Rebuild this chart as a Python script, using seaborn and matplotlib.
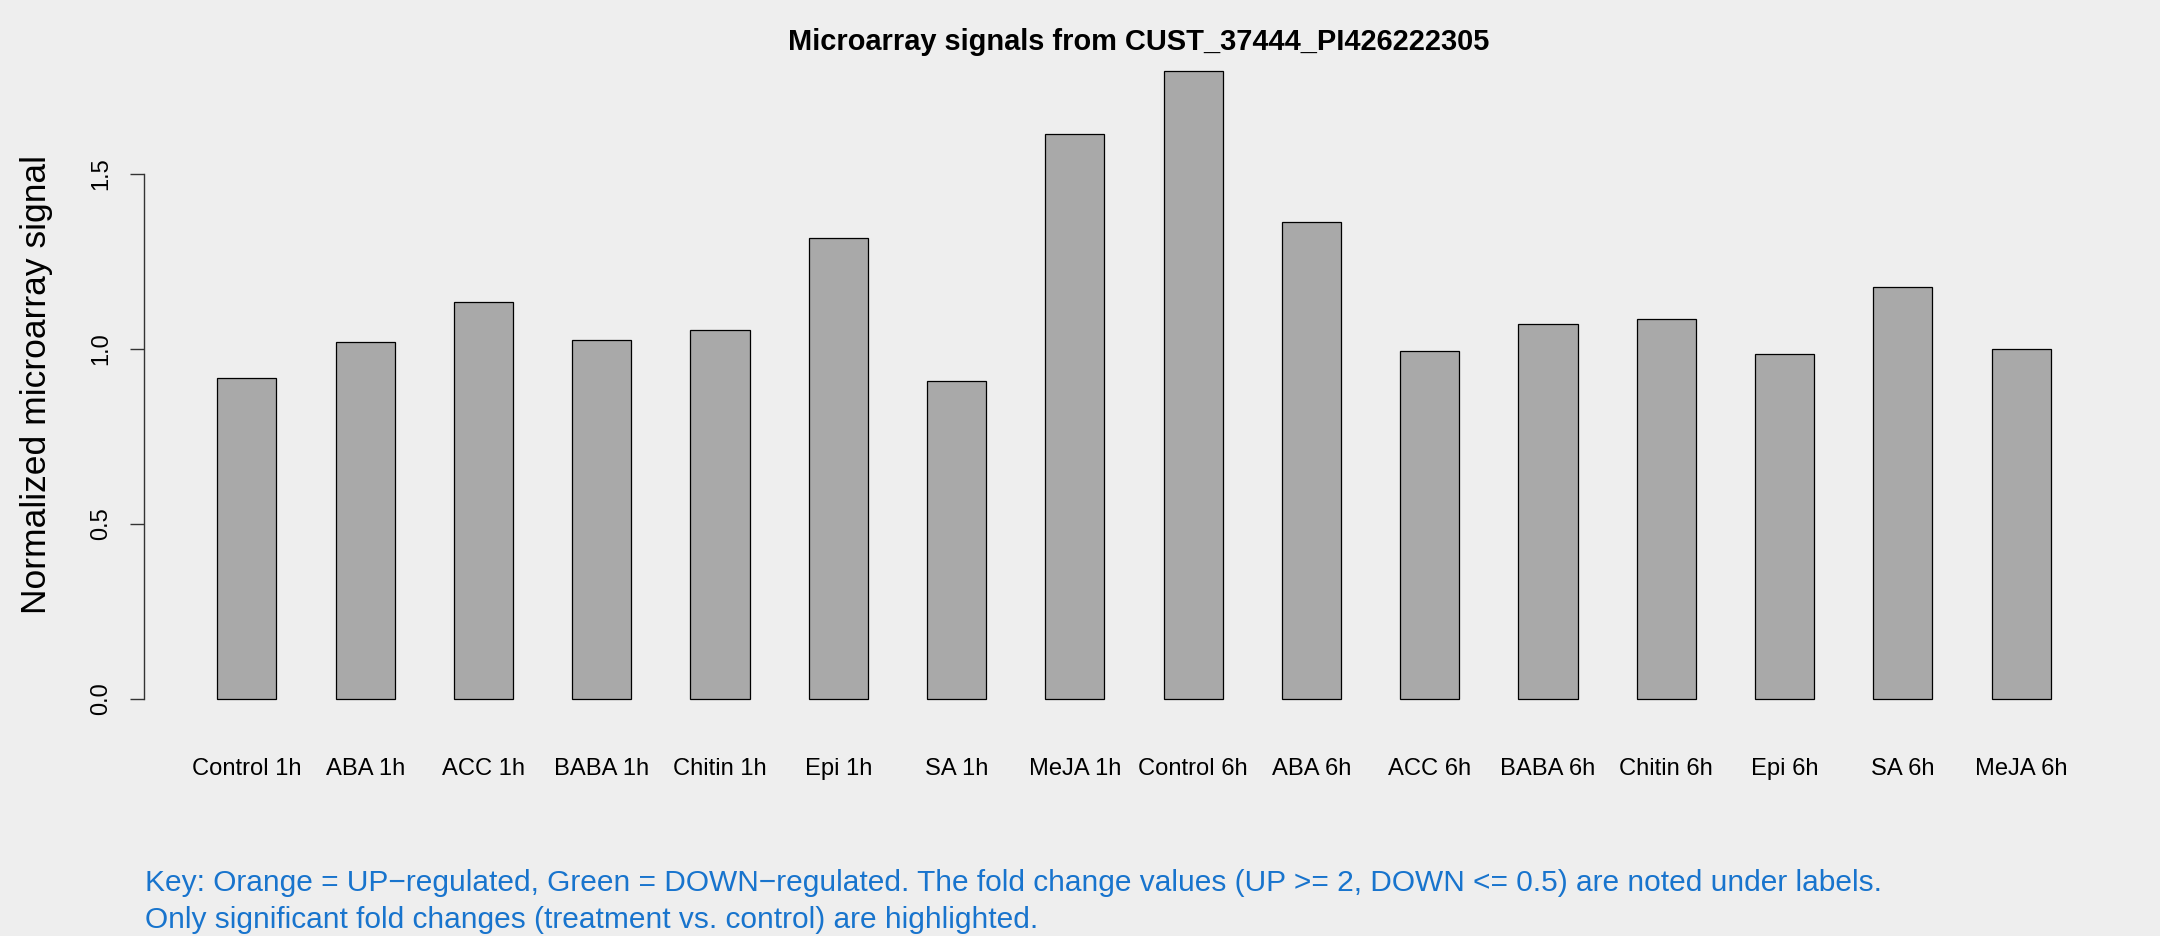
import numpy as np
import pandas as pd
import seaborn as sns
import matplotlib
matplotlib.use("Agg")
import matplotlib.pyplot as plt

samples = ["Control 1h", "ABA 1h", "ACC 1h", "BABA 1h", "Chitin 1h", "Epi 1h", "SA 1h", "MeJA 1h",
           "Control 6h", "ABA 6h", "ACC 6h", "BABA 6h", "Chitin 6h", "Epi 6h", "SA 6h", "MeJA 6h"]
signal = [0.916, 1.019, 1.134, 1.024, 1.053, 1.316, 0.907, 1.614,
          1.793, 1.363, 0.994, 1.070, 1.084, 0.986, 1.177, 0.999]
yticks = [0.0, 0.5, 1.0, 1.5]
ytick_labels = ["0.0", "0.5", "1.0", "1.5"]

probe = "CUST_37444_PI426222305"
key_lines = ["Key: Orange = UP\u2212regulated, Green = DOWN\u2212regulated. The fold change values (UP >= 2, DOWN <= 0.5) are noted under labels.",
             "Only significant fold changes (treatment vs. control) are highlighted."]

df = pd.DataFrame({"sample": samples, "signal": signal})

sns.set_style("white")
plt.rcParams["font.family"] = ["Liberation Sans", "DejaVu Sans"]
plt.rcParams["text.color"] = "black"
plt.rcParams["axes.labelcolor"] = "black"
plt.rcParams["xtick.color"] = "black"
plt.rcParams["ytick.color"] = "black"

bg = "#EEEEEE"
fig = plt.figure(figsize=(21.6, 9.36), dpi=100, facecolor=bg)
# plot region in pixels: x 144..2124, y 46..724
ax = fig.add_axes([144 / 2160, 1 - 724 / 936, 1980 / 2160, 678 / 936])
ax.set_facecolor(bg)

sns.barplot(data=df, x="sample", y="signal", color="#A9A9A9", saturation=1,
            edgecolor="black", linewidth=0.9, width=0.5, ax=ax)

top = max(signal) * 1.04
ax.set_ylim(-0.04 * max(signal), top)
ax.set_xlim(-0.87, len(samples) - 1 + 0.87)

for s in ["top", "right", "bottom"]:
    ax.spines[s].set_visible(False)
ax.spines["left"].set_bounds(0, 1.5)
ax.spines["left"].set_color("#333333")
ax.spines["left"].set_linewidth(1)

ax.set_yticks(yticks)
ax.set_yticklabels(ytick_labels, rotation=90, va="center")
ax.tick_params(axis="y", direction="out", length=10, width=1, color="#333333",
               labelsize=17, pad=13, left=True)
ax.tick_params(axis="x", length=0, labelsize=17.1, pad=24.5)

ax.set_xlabel("")
ax.set_ylabel("Normalized microarray signal", fontsize=25.5)
ax.yaxis.set_label_coords(-0.046, 0.5)

ax.set_title("Microarray signals from " + probe, fontsize=20.9, fontweight="bold",
             x=0.5025, pad=-3)

fig.text(145 / 2160, 1 - 883 / 936, key_lines[0], color="#1874CD", fontsize=21.5, va="center", ha="left")
fig.text(145 / 2160, 1 - 920 / 936, key_lines[1], color="#1874CD", fontsize=21.5, va="center", ha="left")

fig.savefig("out.png", dpi=100, facecolor=bg)
